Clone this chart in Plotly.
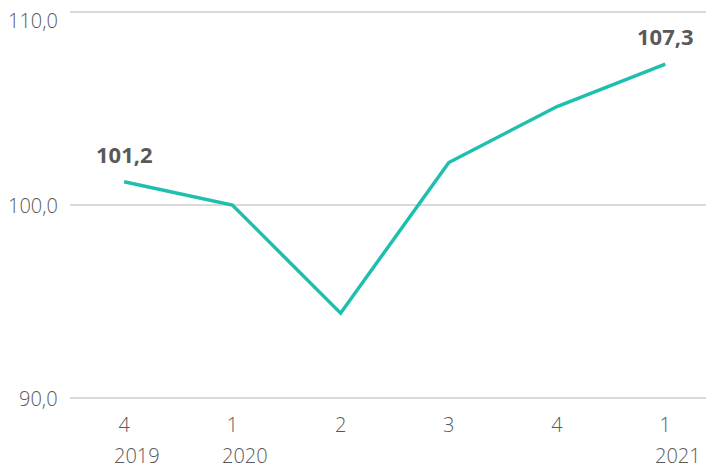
import plotly.graph_objects as go

categories = ["4", "1", "2", "3", "4", "1"]
years = ["2019", "2020", "", "", "", "2021"]
values = [101.2, 100.0, 94.4, 102.2, 105.1, 107.3]
labels = ["101,2", "", "", "", "", "107,3"]
y_ticks = [90, 100, 110]
y_ticktext = ["90,0", "100,0", "110,0"]

FONT = "Open Sans, sans-serif"
x = list(range(len(categories)))

fig = go.Figure()
fig.add_trace(go.Scatter(
    x=x, y=values, mode="lines",
    line=dict(color="#1fbfb0", width=3.5),
    cliponaxis=False, showlegend=False, hoverinfo="skip",
))

for i, (t, v) in enumerate(zip(labels, values)):
    if t:
        fig.add_annotation(x=i, y=v, xref="x", yref="y", text=f"<b>{t}</b>",
                           showarrow=False, xanchor="center", yanchor="middle",
                           yshift=28,
                           font=dict(family=FONT, size=22, color="#595959"))

for i, yr in enumerate(years):
    if yr:
        fig.add_annotation(x=i, y=0, xref="x", yref="paper", text=yr,
                           showarrow=False, xanchor="left", yanchor="middle",
                           xshift=-12, yshift=-53,
                           font=dict(family=FONT, size=20, color="#595959", weight=300))

# y tick labels as annotations so the top one stays inside the figure
top = max(y_ticks)
for v, t in zip(y_ticks, y_ticktext):
    fig.add_annotation(x=0, y=v, xref="paper", yref="y", text=t,
                       showarrow=False, xanchor="right", yanchor="middle",
                       xshift=-10, yshift=(-9 if v == top else 0),
                       font=dict(family=FONT, size=20, color="#595959", weight=300))

# page body has an 8px margin, so the figure is drawn offset by (8, 8)
fig.update_layout(
    width=706, height=461,
    margin=dict(l=62, r=0, t=0, b=67, autoexpand=False),
    paper_bgcolor="white", plot_bgcolor="white",
    font=dict(family=FONT, size=20, color="#595959"),
)
fig.update_xaxes(range=[-0.5, 5.45], tickvals=x, ticktext=categories,
                 showgrid=False, zeroline=False, showline=False,
                 ticks="", ticklabelstandoff=9, automargin=False,
                 tickfont=dict(family=FONT, size=20, color="#595959", weight=300))
fig.update_yaxes(range=[89.8, 110.2], tickvals=y_ticks, showticklabels=False,
                 showgrid=True, gridcolor="#d9d9d9", gridwidth=1.5,
                 zeroline=False, showline=False, ticks="", automargin=False)

fig.write_html("out.html", config={"displayModeBar": False})
